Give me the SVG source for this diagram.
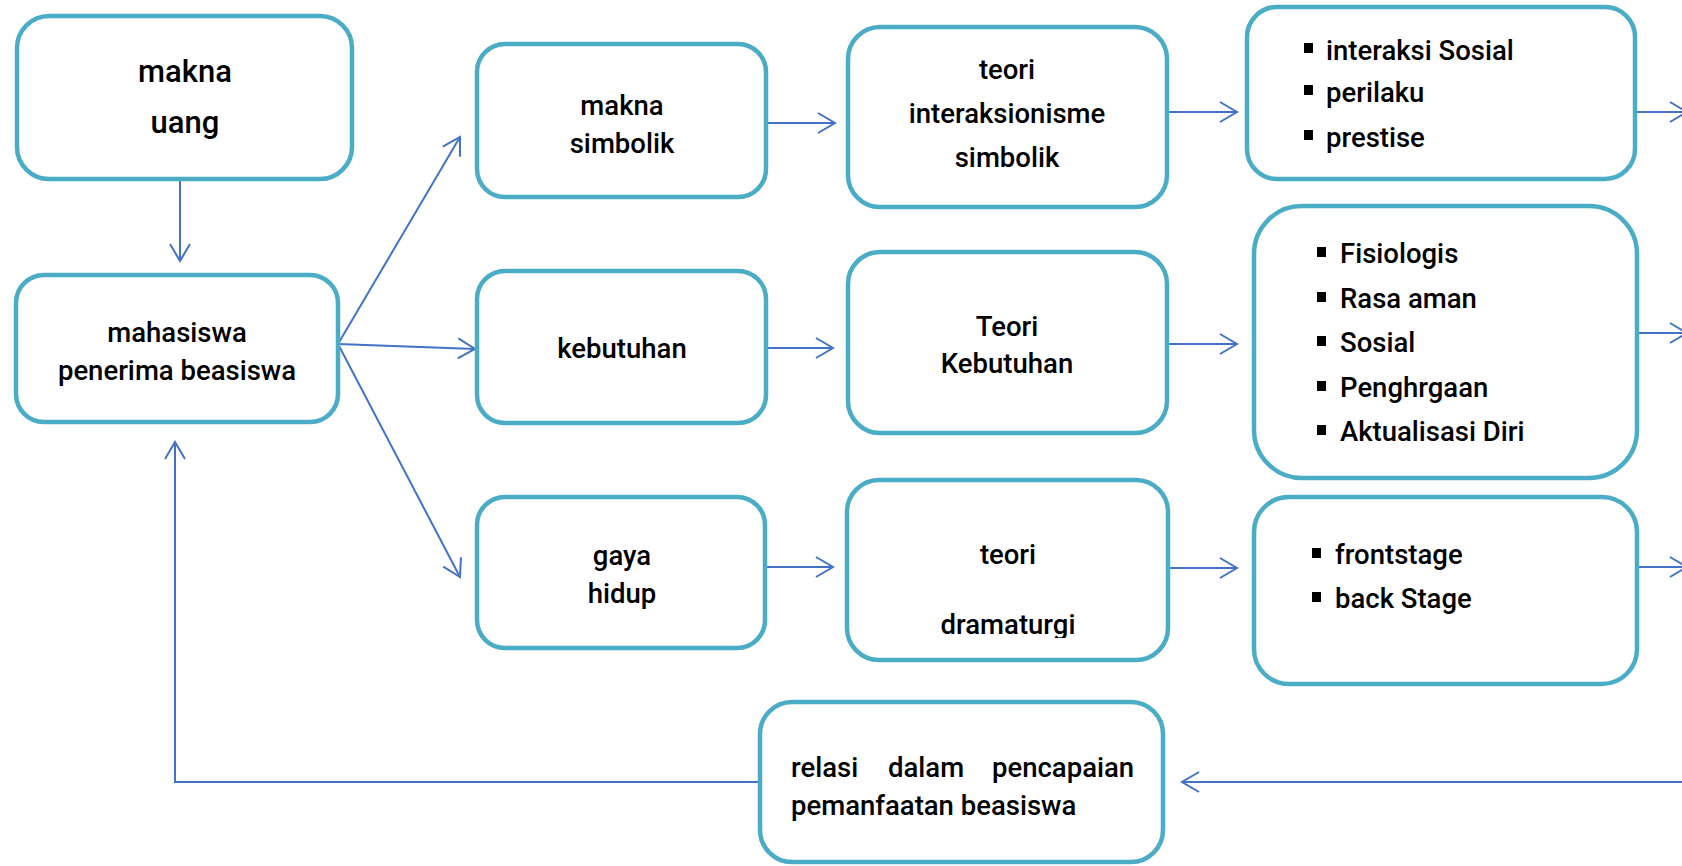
<svg xmlns="http://www.w3.org/2000/svg" width="1682" height="866" viewBox="0 0 1682 866">
<style>
.box{fill:#ffffff;stroke:#4BACC6;stroke-width:4.5}
.t{font-family:Roboto,"Liberation Sans",Arial,sans-serif;font-weight:500;font-size:27.5px;fill:#000000}
.c{text-anchor:middle}
.ln{fill:none;stroke:#4472C4;stroke-width:2}
.bl{fill:#000000}
</style>
<defs>
<marker id="ah" markerUnits="userSpaceOnUse" markerWidth="24" markerHeight="24" viewBox="-20 -12 24 24" refX="0" refY="0" orient="auto" overflow="visible">
<path d="M-17,-10 L0,0 L-17,10" fill="none" stroke="#4472C4" stroke-width="2"/>
</marker>
<clipPath id="clipDr"><rect x="847" y="480" width="321" height="158"/></clipPath>
</defs>
<rect width="1682" height="866" fill="#ffffff"/>

<g id="connectors">
<line class="ln" x1="180" y1="179" x2="180" y2="261" marker-end="url(#ah)"/>
<line class="ln" x1="338" y1="344" x2="460" y2="137" marker-end="url(#ah)"/>
<line class="ln" x1="338" y1="344" x2="475" y2="349" marker-end="url(#ah)"/>
<line class="ln" x1="338" y1="344" x2="460" y2="577" marker-end="url(#ah)"/>
<line class="ln" x1="766" y1="123" x2="835" y2="123" marker-end="url(#ah)"/>
<line class="ln" x1="766" y1="348" x2="833" y2="348" marker-end="url(#ah)"/>
<line class="ln" x1="765" y1="567" x2="833" y2="567" marker-end="url(#ah)"/>
<line class="ln" x1="1167" y1="112" x2="1237" y2="112" marker-end="url(#ah)"/>
<line class="ln" x1="1167" y1="344" x2="1237" y2="344" marker-end="url(#ah)"/>
<line class="ln" x1="1168" y1="568" x2="1237" y2="568" marker-end="url(#ah)"/>
<line class="ln" x1="1635" y1="112" x2="1687" y2="112" marker-end="url(#ah)"/>
<line class="ln" x1="1637" y1="333" x2="1687" y2="333" marker-end="url(#ah)"/>
<line class="ln" x1="1637" y1="567" x2="1687" y2="567" marker-end="url(#ah)"/>
<line class="ln" x1="1682" y1="782" x2="1182" y2="782" marker-end="url(#ah)"/>
<polyline class="ln" points="760,782 175,782 175,442" marker-end="url(#ah)"/>
</g>

<g id="makna-uang">
<rect class="box" x="17" y="16" width="335" height="163" rx="32"/>
<text class="t c" x="185" y="82" style="font-size:31px">makna</text>
<text class="t c" x="185" y="133" style="font-size:31px">uang</text>
</g>

<g id="mahasiswa">
<rect class="box" x="16" y="275" width="322" height="147" rx="28"/>
<text class="t c" x="177" y="342">mahasiswa</text>
<text class="t c" x="177" y="380">penerima beasiswa</text>
</g>

<g id="makna-simbolik">
<rect class="box" x="477" y="44" width="289" height="153" rx="28"/>
<text class="t c" x="622" y="115">makna</text>
<text class="t c" x="622" y="153">simbolik</text>
</g>

<g id="kebutuhan">
<rect class="box" x="477" y="271" width="289" height="152" rx="28"/>
<text class="t c" x="622" y="358">kebutuhan</text>
</g>

<g id="gaya-hidup">
<rect class="box" x="477" y="497" width="288" height="151" rx="28"/>
<text class="t c" x="622" y="565">gaya</text>
<text class="t c" x="622" y="603">hidup</text>
</g>

<g id="teori-interaksionisme">
<rect class="box" x="848" y="27" width="319" height="180" rx="32"/>
<text class="t c" x="1007" y="79">teori</text>
<text class="t c" x="1007" y="123">interaksionisme</text>
<text class="t c" x="1007" y="167">simbolik</text>
</g>

<g id="teori-kebutuhan">
<rect class="box" x="848" y="252" width="319" height="181" rx="32"/>
<text class="t c" x="1007" y="336">Teori</text>
<text class="t c" x="1007" y="373">Kebutuhan</text>
</g>

<g id="teori-dramaturgi">
<rect class="box" x="847" y="480" width="321" height="180" rx="32"/>
<text class="t c" x="1008" y="564">teori</text>
<text class="t c" x="1008" y="634" clip-path="url(#clipDr)">dramaturgi</text>
</g>

<g id="list-interaksi">
<rect class="box" x="1247" y="7" width="388" height="172" rx="30"/>
<rect class="bl" x="1304" y="43" width="9" height="10"/>
<text class="t" x="1326" y="60">interaksi Sosial</text>
<rect class="bl" x="1304" y="85" width="9" height="10"/>
<text class="t" x="1326" y="102">perilaku</text>
<rect class="bl" x="1304" y="130" width="9" height="10"/>
<text class="t" x="1326" y="147">prestise</text>
</g>

<g id="list-kebutuhan">
<rect class="box" x="1254" y="206" width="383" height="272" rx="48"/>
<rect class="bl" x="1317" y="247" width="9" height="10"/>
<text class="t" x="1340" y="263">Fisiologis</text>
<rect class="bl" x="1317" y="292" width="9" height="10"/>
<text class="t" x="1340" y="308">Rasa aman</text>
<rect class="bl" x="1317" y="336" width="9" height="10"/>
<text class="t" x="1340" y="352">Sosial</text>
<rect class="bl" x="1317" y="381" width="9" height="10"/>
<text class="t" x="1340" y="397">Penghrgaan</text>
<rect class="bl" x="1317" y="425" width="9" height="10"/>
<text class="t" x="1340" y="441">Aktualisasi Diri</text>
</g>

<g id="list-dramaturgi">
<rect class="box" x="1254" y="497" width="383" height="187" rx="35"/>
<rect class="bl" x="1312" y="548" width="9" height="10"/>
<text class="t" x="1335" y="564">frontstage</text>
<rect class="bl" x="1312" y="592" width="9" height="10"/>
<text class="t" x="1335" y="608">back Stage</text>
</g>

<g id="relasi">
<rect class="box" x="760" y="702" width="403" height="160" rx="32"/>
<text class="t" y="777"><tspan x="791">relasi</tspan><tspan x="888">dalam</tspan><tspan x="992">pencapaian</tspan></text>
<text class="t" x="791" y="815">pemanfaatan beasiswa</text>
</g>
</svg>
